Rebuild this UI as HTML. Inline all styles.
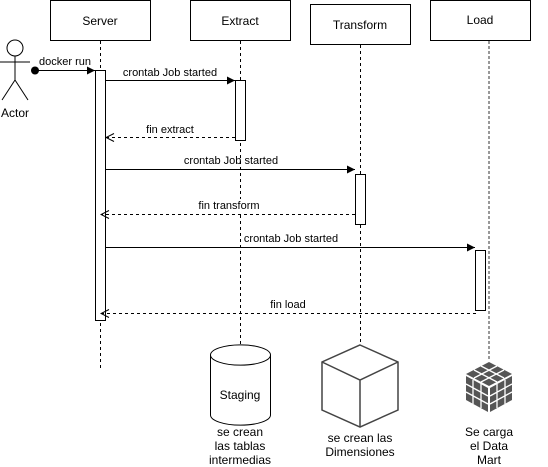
<!DOCTYPE html>
<html><head><meta charset="utf-8"><style>body{margin:0;background:#fff}svg{display:block}text{font-family:"Liberation Sans",Arial,sans-serif;fill:#000}</style></head><body>
<svg width="548" height="467" viewBox="0 0 548 467">
<defs>
<marker id="a" markerWidth="10" markerHeight="10" refX="9" refY="5" orient="auto" markerUnits="userSpaceOnUse"><path d="M1,1 L9,5 L1,9 Z" fill="#000"/></marker>
<marker id="o" markerWidth="10" markerHeight="10" refX="9" refY="5" orient="auto" markerUnits="userSpaceOnUse"><path d="M1,1 L9,5 L1,9" fill="none" stroke="#000"/></marker>
</defs>
<g stroke="#000" fill="#fff">
<rect x="50.5" y="0.5" width="100" height="40"/>
<rect x="190.5" y="0.5" width="100" height="40"/>
<rect x="310.5" y="4.5" width="100" height="40"/>
<rect x="430.5" y="0.5" width="100" height="40"/>
</g>
<g font-size="12" text-anchor="middle">
<text x="100" y="25">Server</text><text x="240" y="25">Extract</text><text x="360" y="29">Transform</text><text x="480" y="24">Load</text>
</g>
<g stroke="#000" stroke-dasharray="3,3">
<line x1="100.5" y1="41" x2="100.5" y2="370"/>
<line x1="240.5" y1="41" x2="240.5" y2="345"/>
<line x1="360.5" y1="45" x2="360.5" y2="345"/>
</g>
<line x1="489" y1="41" x2="489" y2="360" stroke="#777" stroke-width="1.5" stroke-dasharray="3,2"/>
<g stroke="#000" fill="none">
<circle cx="15" cy="48" r="8" fill="#fff"/>
<line x1="15" y1="56" x2="15" y2="80"/><line x1="0" y1="62" x2="30" y2="62"/>
<line x1="15" y1="80" x2="2" y2="100"/><line x1="15" y1="80" x2="28" y2="100"/>
</g>
<text x="15" y="117" font-size="12" text-anchor="middle">Actor</text>
<g stroke="#000" fill="#fff">
<rect x="95.5" y="70.5" width="10" height="250"/>
<rect x="235.5" y="80.5" width="10" height="60"/>
<rect x="355.5" y="174.5" width="10" height="50"/>
<rect x="475.5" y="250.5" width="10" height="60"/>
</g>
<circle cx="35" cy="70.5" r="4" fill="#000"/>
<g stroke="#000" fill="none">
<line x1="35" y1="70.5" x2="95" y2="70.5" marker-end="url(#a)"/>
<line x1="106" y1="80.5" x2="235" y2="80.5" marker-end="url(#a)"/>
<line x1="235" y1="137.5" x2="106" y2="137.5" stroke-dasharray="3,3" marker-end="url(#o)"/>
<line x1="106" y1="169.5" x2="355" y2="169.5" marker-end="url(#a)"/>
<line x1="355" y1="214.5" x2="101" y2="214.5" stroke-dasharray="3,3" marker-end="url(#o)"/>
<line x1="106" y1="247.5" x2="475" y2="247.5" marker-end="url(#a)"/>
<line x1="476" y1="313.5" x2="101" y2="313.5" stroke-dasharray="3,3" marker-end="url(#o)"/>
</g>
<rect x="196" y="199" width="66" height="13" fill="#fff"/>
<g font-size="11" text-anchor="middle">
<text x="65" y="65">docker run</text>
<text x="170" y="76">crontab Job started</text>
<text x="170" y="133">fin extract</text>
<text x="231" y="164">crontab Job started</text>
<text x="229" y="209">fin transform</text>
<text x="291" y="242">crontab Job started</text>
<text x="288" y="308">fin load</text>
</g>
<g stroke="#000" fill="#fff">
<path d="M210.5,355 A29.5,10 0 0 1 270.5,355 L270.5,415 A29.5,10 0 0 1 210.5,415 Z"/>
<path d="M210.5,355 A29.5,10 0 0 0 270.5,355" fill="none"/>
</g>
<text x="240" y="399" font-size="12" text-anchor="middle">Staging</text>
<g stroke="#444" stroke-width="1.5" fill="#fff">
<path d="M360,345 L398,362 L398,410 L360,427 L322,410 L322,362 Z"/>
<path d="M322,362 L360,380 L398,362 M360,380 L360,427" fill="none"/>
</g>
<g fill="#555">
<path d="M489,362 L512,374 L489,386 L466,374 Z"/>
<path d="M466,376 L488,388 L488,412 L466,400 Z"/>
<path d="M490,388 L512,376 L512,400 L490,412 Z"/>
</g>
<g stroke="#fff" stroke-width="1.3" fill="none">
<path d="M481,366 L504,378 M474,370 L497,382 M497,366 L474,378 M504,370 L481,382"/>
<path d="M473,380 L473,404 M481,384 L481,408 M466,384 L488,396 M466,392 L488,404"/>
<path d="M497,384 L497,408 M505,380 L505,404 M490,396 L512,384 M490,404 L512,392"/>
</g>
<g font-size="12" text-anchor="middle">
<text x="240" y="436">se crean</text><text x="240" y="450">las tablas</text><text x="240" y="464">intermedias</text>
<text x="360" y="442">se crean las</text><text x="360" y="456">Dimensiones</text>
<text x="489" y="436">Se carga</text><text x="489" y="450">el Data</text><text x="489" y="464">Mart</text>
</g>
</svg>
</body></html>
